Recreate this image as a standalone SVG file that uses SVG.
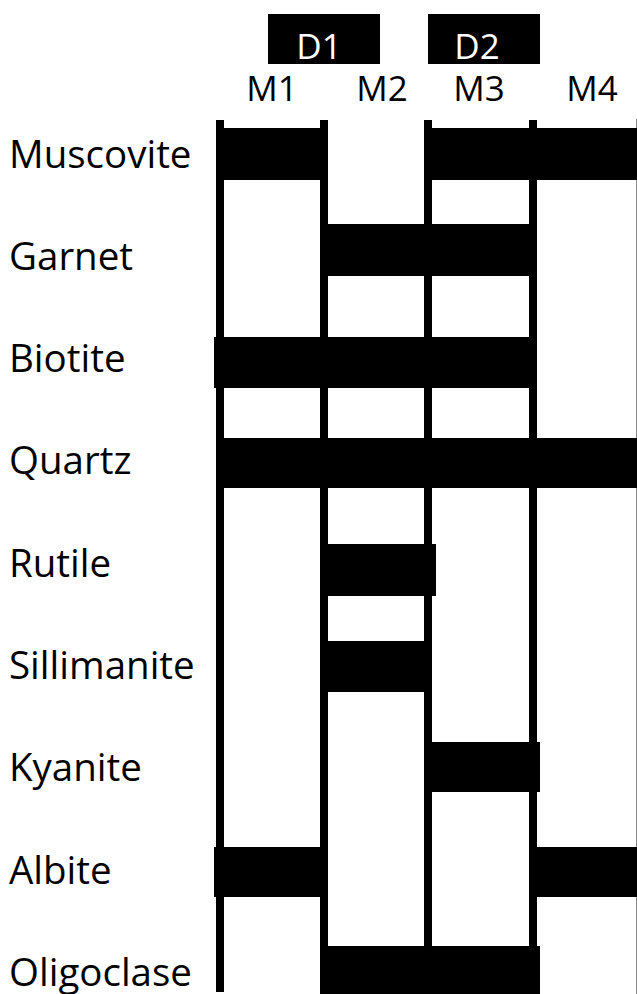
<svg xmlns="http://www.w3.org/2000/svg" width="637" height="994" viewBox="0 0 637 994">
<style>
.lbl{font-family:"Open Sans","Liberation Sans",sans-serif;font-size:38.5px;fill:#000}
.hd{font-family:"Open Sans","Liberation Sans",sans-serif;font-size:35px;fill:#000;text-anchor:middle}
.dt{font-family:"Open Sans","Liberation Sans",sans-serif;font-size:35px;fill:#fff;text-anchor:middle}
.bar{fill:#000}
</style>
<rect width="637" height="994" fill="#fff"/>
<g id="header">
<g id="D1"><rect x="268" y="14" width="112" height="50" fill="#000"/><text class="dt" x="319" y="59">D1</text></g>
<g id="D2"><rect x="428" y="14" width="112" height="50" fill="#000"/><text class="dt" x="477" y="59">D2</text></g>
<text class="hd" x="272" y="101">M1</text>
<text class="hd" x="382" y="101">M2</text>
<text class="hd" x="479" y="101">M3</text>
<text class="hd" x="592" y="101">M4</text>
</g>
<g id="grid">
<rect x="216" y="120" width="8" height="872" fill="#000"/>
<rect x="320" y="120" width="8" height="874" fill="#000"/>
<rect x="424" y="120" width="8" height="874" fill="#000"/>
<rect x="529" y="120" width="8" height="874" fill="#000"/>
<line x1="636.5" y1="119" x2="636.5" y2="994" stroke="#888" stroke-width="1"/>
</g>
<g id="labels">
<text class="lbl" x="9" y="168">Muscovite</text>
<text class="lbl" x="9" y="270">Garnet</text>
<text class="lbl" x="9" y="372">Biotite</text>
<text class="lbl" x="9" y="474">Quartz</text>
<text class="lbl" x="9" y="577">Rutile</text>
<text class="lbl" x="9" y="679">Sillimanite</text>
<text class="lbl" x="9" y="781">Kyanite</text>
<text class="lbl" x="9" y="884">Albite</text>
<text class="lbl" x="9" y="986">Oligoclase</text>
</g>
<g id="bars">
<g id="muscovite"><rect class="bar" x="216" y="128" width="112" height="52"/><rect class="bar" x="424" y="128" width="213" height="52"/></g>
<g id="garnet"><rect class="bar" x="320" y="224" width="216" height="52"/></g>
<g id="biotite"><rect class="bar" x="214" y="337" width="322" height="51"/></g>
<g id="quartz"><rect class="bar" x="216" y="438" width="421" height="50"/></g>
<g id="rutile"><rect class="bar" x="320" y="544" width="116" height="52"/></g>
<g id="sillimanite"><rect class="bar" x="320" y="641" width="112" height="51"/></g>
<g id="kyanite"><rect class="bar" x="424" y="742" width="116" height="50"/></g>
<g id="albite"><rect class="bar" x="214" y="847" width="114" height="50"/><rect class="bar" x="536" y="847" width="101" height="50"/></g>
<g id="oligoclase"><rect class="bar" x="320" y="946" width="220" height="48"/></g>
</g>
</svg>
